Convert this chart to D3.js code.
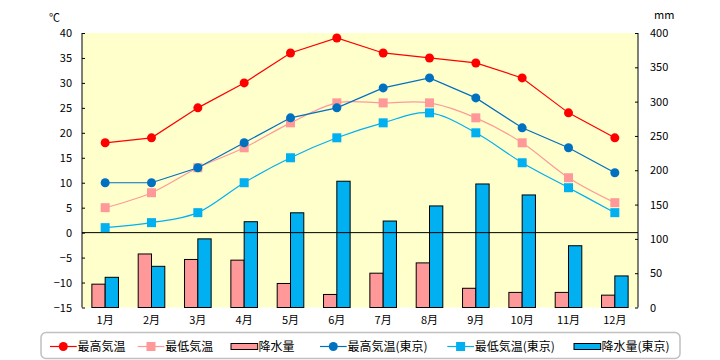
<!DOCTYPE html>
<html><head><meta charset="utf-8">
<script src="https://cdn.jsdelivr.net/npm/d3@7"></script>
<style>body{margin:0;background:#fff}svg{display:block}text{font-family:"Noto Sans CJK JP","Noto Sans",sans-serif}</style>
</head><body><svg id="c" width="720" height="360"></svg>
<script>
const months = ["1月","2月","3月","4月","5月","6月","7月","8月","9月","10月","11月","12月"];
const maxTemp = [18,19,25,30,36,39,36,35,34,31,24,19];
const minTemp = [5,8,13,17,22,26,26,26,23,18,11,6];
const precip = [34,78,70,69,35,19,50,65,28,22,22,18];
const maxTempTokyo = [10,10,13,18,23,25,29,31,27,21,17,12];
const minTempTokyo = [1,2,4,10,15,19,22,24,20,14,9,4];
const precipTokyo = [44,60,100,125,138,184,126,148,180,164,90,46];
const tempTicks = [40,35,30,25,20,15,10,5,0,-5,-10,-15];
const precipTicks = [400,350,300,250,200,150,100,50,0];
const legendLabels = ["最高気温","最低気温","降水量","最高気温(東京)","最低気温(東京)","降水量(東京)"];

const svg = d3.select("#c");
const L = 82, R = 638, T = 33, B = 307.5;
const x = d3.scaleBand().domain(months).range([L, R]);
const yT = d3.scaleLinear().domain([-15, 40]).range([B, T]);
const yP = d3.scaleLinear().domain([0, 400]).range([B, T]);
const sub = d3.scaleBand().domain([0,1]).range([-13.3, 13.3]);

svg.append("rect").attr("x", L).attr("y", T).attr("width", R - L).attr("height", B - T).attr("fill", "#FFFFCC");

// bars
[[precip, "#FF9999", 0], [precipTokyo, "#00B0F0", 1]].forEach(([data, col, k]) => {
  svg.append("g").selectAll("rect").data(data).join("rect")
    .attr("x", (d, i) => x(months[i]) + x.bandwidth() / 2 + sub(k))
    .attr("y", d => yP(d))
    .attr("width", sub.bandwidth())
    .attr("height", d => yP(0) - yP(d))
    .attr("fill", col).attr("stroke", "#000").attr("stroke-width", 1);
});

// zero line
svg.append("line").attr("x1", L).attr("x2", R).attr("y1", yT(0)).attr("y2", yT(0)).attr("stroke", "#000");

// left axis
const axL = svg.append("g").attr("transform", `translate(${L},0)`)
  .call(d3.axisRight(yT).tickValues(tempTicks).tickSize(3).tickFormat(d3.format("d")));
axL.select(".domain").attr("d", `M0,${T}V${B}`).attr("stroke", "#000");
axL.selectAll(".tick text").attr("x", -10).attr("text-anchor", "end").attr("font-size", 11).attr("fill", "#000");
// right axis
const axR = svg.append("g").attr("transform", `translate(${R},0)`)
  .call(d3.axisLeft(yP).tickValues(precipTicks).tickSize(3));
axR.select(".domain").attr("d", `M0,${T}V${B}`).attr("stroke", "#000");
axR.selectAll(".tick text").attr("x", 12).attr("text-anchor", "start").attr("font-size", 11).attr("fill", "#000");
// month labels
svg.append("g").selectAll("text").data(months).join("text")
  .attr("x", d => x(d) + x.bandwidth() / 2).attr("y", 324).attr("text-anchor", "middle")
  .attr("font-size", 11).text(d => d);

svg.append("text").attr("x", 49).attr("y", 22).attr("font-size", 11).text("℃");
svg.append("text").attr("x", 654).attr("y", 19).attr("font-size", 11).text("mm");

// lines
const cx = (i) => x(months[i]) + x.bandwidth() / 2;
const series = [
  [maxTemp, "#FF0000", "circle", d3.curveLinear],
  [minTemp, "#FF9999", "square", d3.curveCatmullRom.alpha(0)],
  [maxTempTokyo, "#0070C0", "circle", d3.curveLinear],
  [minTempTokyo, "#00B0F0", "square", d3.curveCatmullRom.alpha(0)]
];
// draw order: squares series under circles
[series[3], series[1], series[2], series[0]].forEach(([data, col, shape, curve]) => {
  const line = d3.line().x((d, i) => cx(i)).y(d => yT(d)).curve(curve);
  svg.append("path").attr("d", line(data)).attr("fill", "none").attr("stroke", col).attr("stroke-width", 1.2);
  const g = svg.append("g");
  if (shape === "circle") {
    g.selectAll("circle").data(data).join("circle").attr("cx", (d, i) => cx(i)).attr("cy", d => yT(d)).attr("r", 4.5).attr("fill", col);
  } else {
    g.selectAll("rect").data(data).join("rect").attr("x", (d, i) => cx(i) - 4.5).attr("y", d => yT(d) - 4.5).attr("width", 9).attr("height", 9).attr("fill", col);
  }
});

// legend
svg.append("rect").attr("x", 41).attr("y", 332.5).attr("width", 639).attr("height", 26).attr("rx", 5)
  .attr("fill", "#fff").attr("stroke", "#C0C0C0").attr("stroke-width", 1.5);
const lx = [50, 137.7, 231, 320, 447.3, 574];
const lTypes = [["line", "#FF0000", "circle"], ["line", "#FF9999", "square"], ["bar", "#FF9999"],
                ["line", "#0070C0", "circle"], ["line", "#00B0F0", "square"], ["bar", "#00B0F0"]];
const ly = 346.5;
legendLabels.forEach((lab, i) => {
  const g = svg.append("g");
  const t = lTypes[i], x0 = lx[i];
  if (t[0] === "line") {
    g.append("line").attr("x1", x0).attr("x2", x0 + 26.7).attr("y1", ly).attr("y2", ly).attr("stroke", t[1]).attr("stroke-width", 1.2);
    if (t[2] === "circle") g.append("circle").attr("cx", x0 + 13.3).attr("cy", ly).attr("r", 4.5).attr("fill", t[1]);
    else g.append("rect").attr("x", x0 + 13.3 - 4.5).attr("y", ly - 4.5).attr("width", 9).attr("height", 9).attr("fill", t[1]);
  } else {
    g.append("rect").attr("x", x0).attr("y", ly - 3).attr("width", 26.7).attr("height", 6).attr("fill", t[1]).attr("stroke", "#000").attr("stroke-width", 1);
  }
  g.append("text").attr("x", x0 + 27.5).attr("y", ly + 4.5).attr("font-size", 12).text(lab);
});
</script></body></html>
